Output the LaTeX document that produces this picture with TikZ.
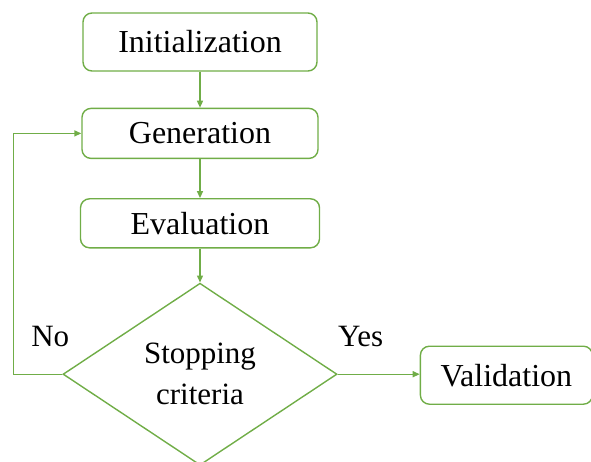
\documentclass[tikz,border=0pt]{standalone}
\usepackage{fontspec}
\setmainfont{Liberation Serif}
\usetikzlibrary{shapes.geometric,arrows.meta}
\definecolor{flowgreen}{HTML}{70AD47}
\tikzset{
  stepbox/.style={draw=flowgreen,line width=1.4pt,rounded corners=9pt,inner sep=0pt,
    font=\fontsize{32}{38}\selectfont},
  decision/.style={draw=flowgreen,line width=1.4pt,diamond,aspect=1.5,inner sep=0pt,
    minimum width=274pt,minimum height=182pt,align=center,font=\fontsize{31}{41}\selectfont},
  flow/.style={-{Triangle[length=7pt,width=6pt]},draw=flowgreen,line width=1.4pt}
}
\begin{document}
\begin{tikzpicture}[x=1pt,y=1pt]
\useasboundingbox (0,0) rectangle (591,-462);

\node [stepbox,minimum width=234pt,minimum height=58pt] (node1) at (200,-42) {Initialization};
\node [stepbox,anchor=north,minimum width=236pt,minimum height=50pt] (node2) at ([yshift=-36pt]node1.south) {Generation};
\draw[flow](node1.south)--(node2.north);

\node [stepbox,anchor=north,minimum width=239pt,minimum height=49pt] (node3) at ([yshift=-39pt]node2.south) {Evaluation};
\draw[flow](node2.south)--(node3.north);

\node [decision,anchor=north] (node4) at ([yshift=-34pt]node3.south) {Stopping\\criteria};
\draw[flow](node3.south)--(node4.north);

\node [stepbox,anchor=west,minimum width=172pt,minimum height=58pt] (node5) at ([xshift=82pt,yshift=-1pt]node4.east) {Validation};
\draw[flow](node4.east)--(node4.east -| node5.west);
\node [font=\fontsize{31}{37}\selectfont] (node5-1) at ([xshift=23pt,yshift=38pt]node4.east) {Yes};

\draw[flow](node4.west)--([xshift=-49pt]node4.west)|-(node2.west);
\node [font=\fontsize{31}{37}\selectfont] (node4-1) at ([xshift=-12pt,yshift=38pt]node4.west) {No};

\end{tikzpicture}
\end{document}
